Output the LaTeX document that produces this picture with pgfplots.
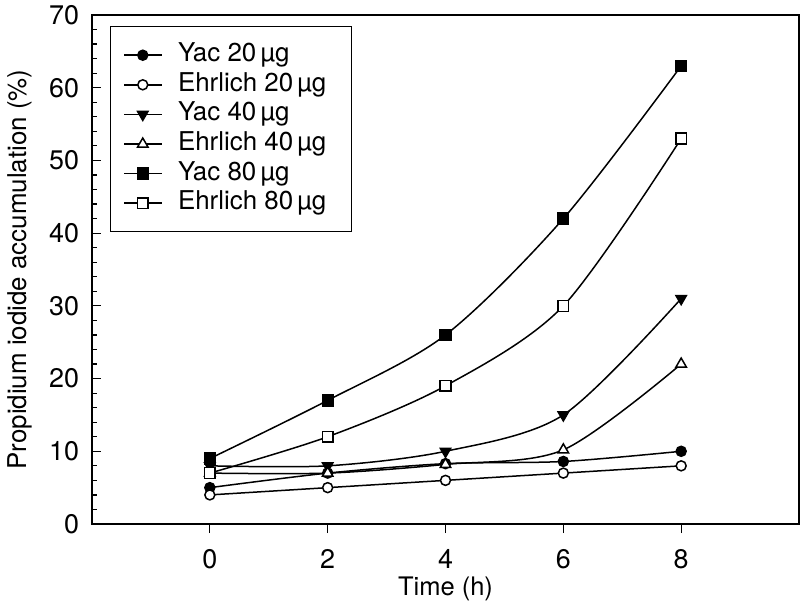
\documentclass[border=0pt]{standalone}
\usepackage{fontspec}
\setmainfont{TeX Gyre Heros}
\usepackage{pgfplots}
\pgfplotsset{compat=1.18}
\begin{document}
\begin{tikzpicture}
\begin{axis}[
  name=ax,
  scale only axis, width=353.5bp, height=254.5bp,
  xmin=-2, xmax=10, ymin=0, ymax=70,
  axis line style={line width=0.65bp},
  xtick={0,2,4,6,8}, ytick={0,10,...,70}, minor y tick num=4,
  xtick pos=bottom, ytick pos=left,
  xtick align=outside, ytick align=inside,
  major tick length=4.5bp, minor tick length=2.5bp,
  tick style={line width=0.6bp, black},
  /pgf/number format/assume math mode=true,
  ticklabel style={font=\fontsize{13.5}{15}\selectfont},
  yticklabel style={xshift=-3bp},
  xticklabel style={yshift=-4.5bp},
  xlabel={Time (h)}, ylabel={Propidium iodide accumulation (\%)},
  xlabel style={font=\fontsize{12.8}{14}\selectfont, at={(axis description cs:0.5,0)}, anchor=base, inner sep=0pt, yshift=-35.5bp},
  ylabel style={font=\fontsize{13}{15}\selectfont, at={([xshift=-42.5bp]axis description cs:0,0.5)}, anchor=north, inner sep=0pt},
  legend style={at={(0.0255,0.978)}, anchor=north west, draw=black, line width=0.5bp,
    font=\fontsize{13}{14}\selectfont, inner xsep=6.5bp, inner ysep=8bp, row sep=2.3bp, column sep=0pt,
    nodes={inner ysep=0pt, inner xsep=0pt, text height=9.5bp, text depth=3bp}},
  legend image code/.code={\draw[#1] (0bp,0bp) -- (18.5bp,0bp); \draw[#1, mark repeat=2, mark phase=2] plot coordinates {(0bp,0bp) (9.25bp,0bp) (18.5bp,0bp)}; \path (26.5bp,0bp);},
  legend cell align=left,
  every axis plot/.append style={black, line width=0.75bp, smooth, tension=0.5},
]
\addplot[mark=*, mark size=2.5bp] coordinates {(0,5) (2,7) (4,8.3) (6,8.6) (8,10)};
\addlegendentry{Yac 20\,µg}
\addplot[mark=*, mark size=2.5bp, mark options={fill=white}] coordinates {(0,4) (2,5) (4,6) (6,7) (8,8)};
\addlegendentry{Ehrlich 20\,µg\hspace*{6bp}}
\addplot[mark=triangle*, mark size=3bp, mark options={rotate=180}] coordinates {(0,8) (2,8) (4,10) (6,15) (8,31)};
\addlegendentry{Yac 40\,µg}
\addplot[mark=triangle*, mark size=3bp, mark options={fill=white}] coordinates {(0,7) (2,7) (4,8.2) (6,10.2) (8,22)};
\addlegendentry{Ehrlich 40\,µg}
\addplot[mark=square*, mark size=2.7bp] coordinates {(0,9) (2,17) (4,26) (6,42) (8,63)};
\addlegendentry{Yac 80\,µg}
\addplot[mark=square*, mark size=2.7bp, mark options={fill=white}] coordinates {(0,7) (2,12) (4,19) (6,30) (8,53)};
\addlegendentry{Ehrlich 80\,µg}
\end{axis}
\pgfresetboundingbox
\path (ax.south west) ++(-46bp,-41bp) coordinate (bl);
\path (ax.north east) ++(0.5bp,7.5bp) coordinate (tr);
\path (bl) rectangle (tr);
\end{tikzpicture}
\end{document}
